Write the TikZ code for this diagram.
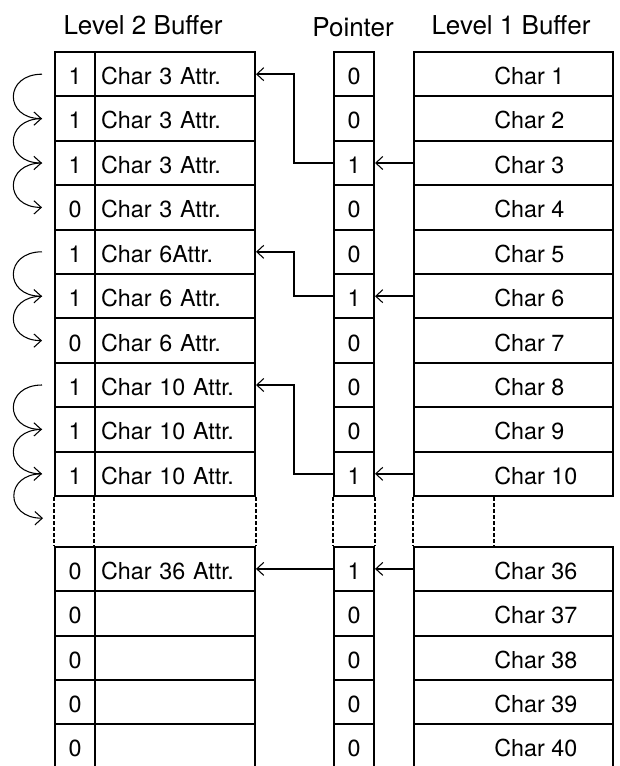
\documentclass[tikz,border=0pt]{standalone}
\usepackage{fontspec}
\setmainfont{TeX Gyre Heros}
\usepackage{tikz}
\usetikzlibrary{arrows.meta, positioning, calc}
\tikzset{
    cellBox/.style={rectangle, draw=black, line width=1.5pt, minimum height=33.3pt, inner sep=0pt, text height=15.6pt, text depth=0pt, font=\fontsize{17.5}{21}\selectfont},
    flagCell/.style={cellBox, minimum width=30pt},
    attrCell/.style={cellBox, text width=111pt, align=left, inner xsep=4.5pt},
    charCell/.style={cellBox, minimum width=149.25pt},
    cellText/.style={inner sep=0pt, anchor=west, text height=15.6pt, text depth=0pt, font=\fontsize{17.5}{21}\selectfont},
    headText/.style={inner sep=0pt, anchor=base, font=\fontsize{19.5}{23}\selectfont},
    ptrLine/.style={line width=1.5pt, -{Straight Barb[length=5.25pt, width=9.75pt, line width=0.8pt]}},
    nextLine/.style={line width=0.8pt, -{Straight Barb[length=5.5pt, width=10pt, line width=0.8pt]}},
    gapLine/.style={line width=1.5pt, dash pattern=on 3pt off 1.5pt}
}

\begin{document}
\begin{tikzpicture}[x=0.75pt, y=-0.75pt]
        \useasboundingbox (0,0) rectangle (619,766);

        % Headings
        \node[headText] (headL2) at (143,34.3) {Level 2 Buffer};
        \node[headText] (headPtr) at (353,36.5) {Pointer};
        \node[headText] (headL1) at (511,34.3) {Level 1 Buffer};

        % Rows: index / y / flag / attribute / pointer
        \foreach \i/\y/\flag/\attr/\ptr in {
            1/74.2/1/Char 3 Attr./0, 2/118.6/1/Char 3 Attr./0, 3/163/1/Char 3 Attr./1, 4/207.4/0/Char 3 Attr./0,
            5/251.8/1/Char 6Attr./0, 6/296.2/1/Char 6 Attr./1, 7/340.6/0/Char 6 Attr./0,
            8/385/1/Char 10 Attr./0, 9/429.4/1/Char 10 Attr./0, 10/473.8/1/Char 10 Attr./1,
            36/568.9/0/Char 36 Attr./1, 37/613.3/0//0, 38/657.7/0//0, 39/702.1/0//0, 40/746.5/0//0} {
            \node[flagCell] (F\i) at (75,\y) {\flag};
            \node[attrCell] (A\i) at (175,\y) {\attr};
            \node[flagCell] (P\i) at (354,\y) {\ptr};
            \node[charCell] (C\i) at (513.5,\y) {};
            \node[cellText] (T\i) at (494,\y) {Char \i};
        }

        % Skipped rows
        \foreach \top/\bot in {F10.south west/F36.north west, A10.south west/A36.north west,
            A10.south east/A36.north east, P10.south west/P36.north west,
            P10.south east/P36.north east, C10.south west/C36.north west}
            \draw[gapLine] (\top) -- (\bot);
        \draw[gapLine] (T10.west |- C10.south) -- (T10.west |- C36.north);
        \coordinate (gapRow) at (43,518.2);

        % Links to the next attribute row
        \foreach \a/\b in {1/2, 2/3, 3/4, 5/6, 6/7, 8/9, 9/10}
            \draw[nextLine] ($(F\a.west)+(-12,0)$) .. controls +(-38,0) and +(-38,0) .. ($(F\b.west)+(-12,0)$);
        \draw[nextLine] ($(F10.west)+(-12,0)$) .. controls +(-38,0) and +(-38,0) .. (gapRow);

        % Pointers
        \foreach \r in {3,6,10,36}
            \draw[ptrLine] (C\r.west) -- (P\r.east);
        \draw[ptrLine] (P3.west) -- ++(-39,0) |- (A1.east);
        \draw[ptrLine] (P6.west) -- ++(-39,0) |- (A5.east);
        \draw[ptrLine] (P10.west) -- ++(-39,0) |- (A8.east);
        \draw[ptrLine] (P36.west) -- (A36.east);

\end{tikzpicture}
\end{document}
